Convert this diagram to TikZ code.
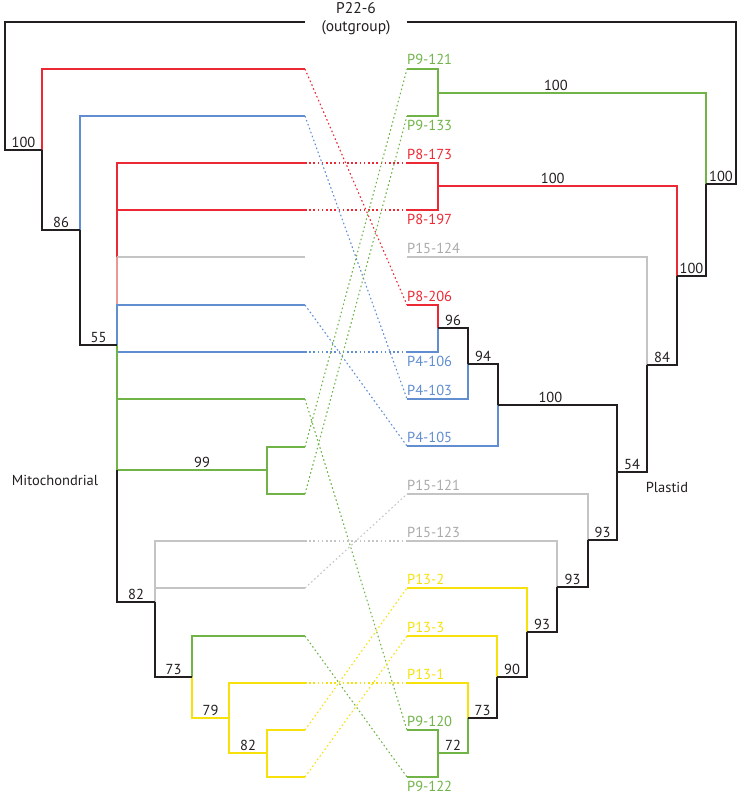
\documentclass[tikz,border=0pt]{standalone}
\usepackage{fontspec}
\setmainfont{PT Sans}
\usetikzlibrary{positioning}
\definecolor{cBlack}{RGB}{35,31,32}
\definecolor{cRed}{RGB}{236,40,52}
\definecolor{cGreen}{RGB}{112,180,72}
\definecolor{cBlue}{RGB}{96,142,208}
\definecolor{cGray}{RGB}{196,196,196}
\definecolor{cGrayText}{RGB}{170,170,170}
\definecolor{cYellow}{RGB}{246,226,10}
\definecolor{cPink}{RGB}{236,150,150}
\tikzset{x=1pt, y=-1pt, % pixel grid, y runs down
stem/.style={line width=1.8pt, cBlack}, % black backbone
branch/.style={line width=1.1pt}, % coloured branches
link/.style={line width=1.1pt, dash pattern=on 1.6pt off 2.6pt}, % dotted links between the trees
boot/.style={font=\fontsize{14.5}{16}\selectfont, text=cBlack, above, inner sep=1.5pt}, % support values
tipname/.style={font=\fontsize{14.5}{16}\selectfont, anchor=base west, inner sep=0pt}, % leaf names
}

\begin{document}
\begin{tikzpicture}
\useasboundingbox (0,0) rectangle (742,800);

% mitochondrial tree: leaf ends
\coordinate (m0) at (305,22);
\coordinate (mA) at (305,69);
\coordinate (mB) at (305,116);
\coordinate (mC) at (305,163);
\coordinate (mD) at (305,210);
\coordinate (mE) at (305,257);
\coordinate (mF) at (305,305);
\coordinate (mG) at (305,352);
\coordinate (mH) at (305,399);
\coordinate (mI) at (305,447);
\coordinate (mJ) at (305,494);
\coordinate (mK) at (305,541);
\coordinate (mL) at (305,588);
\coordinate (mM) at (305,636);
\coordinate (mN) at (305,683);
\coordinate (mO) at (305,730);
\coordinate (mP) at (305,777);
% mitochondrial tree: inner nodes
\coordinate (mroot) at (5,150);
\coordinate (n100) at (42,150);
\coordinate (n86) at (80,230);
\coordinate (n55) at (117,345);
\coordinate (n99) at (267,470);
\coordinate (n82) at (155,602);
\coordinate (n73) at (192,677);
\coordinate (n79) at (229,718);
\coordinate (n82b) at (267,753);

% plastid tree: leaf starts
\coordinate (p22) at (407,22);
\coordinate (p9x121) at (407,69);
\coordinate (p9x133) at (407,116);
\coordinate (p8x173) at (407,163);
\coordinate (p8x197) at (407,210);
\coordinate (p15x124) at (407,257);
\coordinate (p8x206) at (407,305);
\coordinate (p4x106) at (407,352);
\coordinate (p4x103) at (407,399);
\coordinate (p4x105) at (407,446);
\coordinate (p15x121) at (407,494);
\coordinate (p15x123) at (407,541);
\coordinate (p13x2) at (407,588);
\coordinate (p13x3) at (407,636);
\coordinate (p13x1) at (407,683);
\coordinate (p9x120) at (407,730);
\coordinate (p9x122) at (407,777);
% plastid tree: inner nodes
\coordinate (rroot) at (736,184);
\coordinate (q100a) at (706,184);
\coordinate (gq) at (438,93);
\coordinate (q100b) at (677,276);
\coordinate (rq) at (438,186);
\coordinate (q84) at (647,365);
\coordinate (q54) at (617,472);
\coordinate (q96) at (438,328);
\coordinate (q94) at (468,364);
\coordinate (b100) at (498,405);
\coordinate (q93a) at (588,540);
\coordinate (q93b) at (557,587);
\coordinate (q93c) at (527,632);
\coordinate (q90) at (497,677);
\coordinate (q73) at (468,718);
\coordinate (q72) at (438,753);

% links
\draw[link, cRed] (mA) -- (p8x206);
\draw[link, cRed] (mC) -- (p8x173);
\draw[link, cRed] (mD) -- (p8x197);
\draw[link, cBlue] (mB) -- (p4x103);
\draw[link, cBlue] (mF) -- (p4x105);
\draw[link, cBlue] (mG) -- (p4x106);
\draw[link, cGreen] (mH) -- (p9x120);
\draw[link, cGreen] (mI) -- (p9x121);
\draw[link, cGreen] (mJ) -- (p9x133);
\draw[link, cGreen] (mM) -- (p9x122);
\draw[link, cGray] (mK) -- (p15x123);
\draw[link, cGray] (mL) -- (p15x121);
\draw[link, cYellow] (mN) -- (p13x1);
\draw[link, cYellow] (mO) -- (p13x2);
\draw[link, cYellow] (mP) -- (p13x3);

% mitochondrial tree
\draw[branch, cRed] (mA) -| (n100);
\draw[branch, cBlue] (mB) -| (n86);
\draw[branch, cRed] (mC) -| (n55 |- mE);
\draw[branch, cRed] (mD) -- (n55 |- mD);
\draw[branch, cGray] (mE) -- (n55 |- mE);
\draw[branch, cPink] (n55 |- mE) -- (n55 |- mF);
\draw[branch, cBlue] (mF) -| (n55);
\draw[branch, cBlue] (mG) -- (n55 |- mG);
\draw[branch, cGreen] (n55) -- (n55 |- n99);
\draw[branch, cGreen] (mH) -- (n55 |- mH);
\draw[branch, cGreen] (n55 |- n99) -- node[boot, xshift=10pt]{99} (n99);
\draw[branch, cGreen] (mI) -| (n99);
\draw[branch, cGreen] (mJ) -| (n99);
\draw[branch, cGray] (mK) -| (n82);
\draw[branch, cGray] (mL) -- (n82 |- mL);
\draw[branch, cGreen] (mM) -| (n73);
\draw[branch, cYellow] (n73) |- node[boot, pos=.75]{79} (n79);
\draw[branch, cYellow] (mN) -| (n79);
\draw[branch, cYellow] (n79) |- node[boot, pos=.75]{82} (n82b);
\draw[branch, cYellow] (mO) -| (n82b);
\draw[branch, cYellow] (mP) -| (n82b);
\draw[stem] (m0) -| (mroot) -- node[boot]{100} (n100);
\draw[stem] (n100) |- node[boot, pos=.75]{86} (n86);
\draw[stem] (n86) |- node[boot, pos=.75]{55} (n55);
\draw[stem] (n55 |- n99) |- node[boot, pos=.75]{82} (n82);
\draw[stem] (n82) |- node[boot, pos=.75]{73} (n73);

% plastid tree
\draw[branch, cGreen] (p9x121) -| (gq);
\draw[branch, cGreen] (p9x133) -| (gq);
\draw[branch, cGreen] (gq) -| node[boot, pos=.22]{100} (q100a);
\draw[branch, cRed] (p8x173) -| (rq);
\draw[branch, cRed] (p8x197) -| (rq);
\draw[branch, cRed] (rq) -| node[boot, pos=.24]{100} (q100b);
\draw[branch, cGray] (p15x124) -| (q84);
\draw[branch, cRed] (p8x206) -| (q96);
\draw[branch, cBlue] (p4x106) -| (q96);
\draw[branch, cBlue] (p4x103) -| (q94);
\draw[branch, cBlue] (p4x105) -| (b100);
\draw[branch, cGray] (p15x121) -| (q93a);
\draw[branch, cGray] (p15x123) -| (q93b);
\draw[branch, cYellow] (p13x2) -| (q93c);
\draw[branch, cYellow] (p13x3) -| (q90);
\draw[branch, cYellow] (p13x1) -| (q73);
\draw[branch, cGreen] (q73) |- node[boot, pos=.75]{72} (q72);
\draw[branch, cGreen] (p9x120) -| (q72);
\draw[branch, cGreen] (p9x122) -| (q72);
\draw[stem] (p22) -| (rroot) -- node[boot]{100} (q100a);
\draw[stem] (q100a) |- node[boot, pos=.75]{100} (q100b);
\draw[stem] (q100b) |- node[boot, pos=.75]{84} (q84);
\draw[stem] (q84) |- node[boot, pos=.75]{54} (q54);
\draw[stem] (q96) -| node[boot, pos=.25]{96} (q94);
\draw[stem] (q94) -| node[boot, pos=.25]{94} (b100);
\draw[stem] (b100) -| node[boot, pos=.22]{100} (q54);
\draw[stem] (q54) |- node[boot, pos=.75]{93} (q93a);
\draw[stem] (q93a) |- node[boot, pos=.75]{93} (q93b);
\draw[stem] (q93b) |- node[boot, pos=.75]{93} (q93c);
\draw[stem] (q93c) |- node[boot, pos=.75]{90} (q90);
\draw[stem] (q90) |- node[boot, pos=.75]{73} (q73);

% leaf names
\node[font=\fontsize{15.5}{18}\selectfont, align=center, inner sep=0pt, text=cBlack] (outlab) at (356,19) {P22-6\\(outgroup)};
\node[tipname, text=cGreen, yshift=4pt] (t9x121) at (p9x121) {P9-121};
\node[tipname, text=cGreen, yshift=-14pt] (t9x133) at (p9x133) {P9-133};
\node[tipname, text=cRed, yshift=4pt] (t8x173) at (p8x173) {P8-173};
\node[tipname, text=cRed, yshift=-14pt] (t8x197) at (p8x197) {P8-197};
\node[tipname, text=cGrayText, yshift=4pt] (t15x124) at (p15x124) {P15-124};
\node[tipname, text=cRed, yshift=4pt] (t8x206) at (p8x206) {P8-206};
\node[tipname, text=cBlue, yshift=-14pt] (t4x106) at (p4x106) {P4-106};
\node[tipname, text=cBlue, yshift=4pt] (t4x103) at (p4x103) {P4-103};
\node[tipname, text=cBlue, yshift=4pt] (t4x105) at (p4x105) {P4-105};
\node[tipname, text=cGrayText, yshift=4pt] (t15x121) at (p15x121) {P15-121};
\node[tipname, text=cGrayText, yshift=4pt] (t15x123) at (p15x123) {P15-123};
\node[tipname, text=cYellow, yshift=4pt] (t13x2) at (p13x2) {P13-2};
\node[tipname, text=cYellow, yshift=4pt] (t13x3) at (p13x3) {P13-3};
\node[tipname, text=cYellow, yshift=4pt] (t13x1) at (p13x1) {P13-1};
\node[tipname, text=cGreen, yshift=4pt] (t9x120) at (p9x120) {P9-120};
\node[tipname, text=cGreen, yshift=-14pt] (t9x122) at (p9x122) {P9-122};

% tree names
\node[font=\fontsize{14.5}{16}\selectfont, text=cBlack] (mito) at (55,480) {Mitochondrial};
\node[font=\fontsize{14.5}{16}\selectfont, text=cBlack] (plastid) at (667,487) {Plastid};
\end{tikzpicture}
\end{document}
